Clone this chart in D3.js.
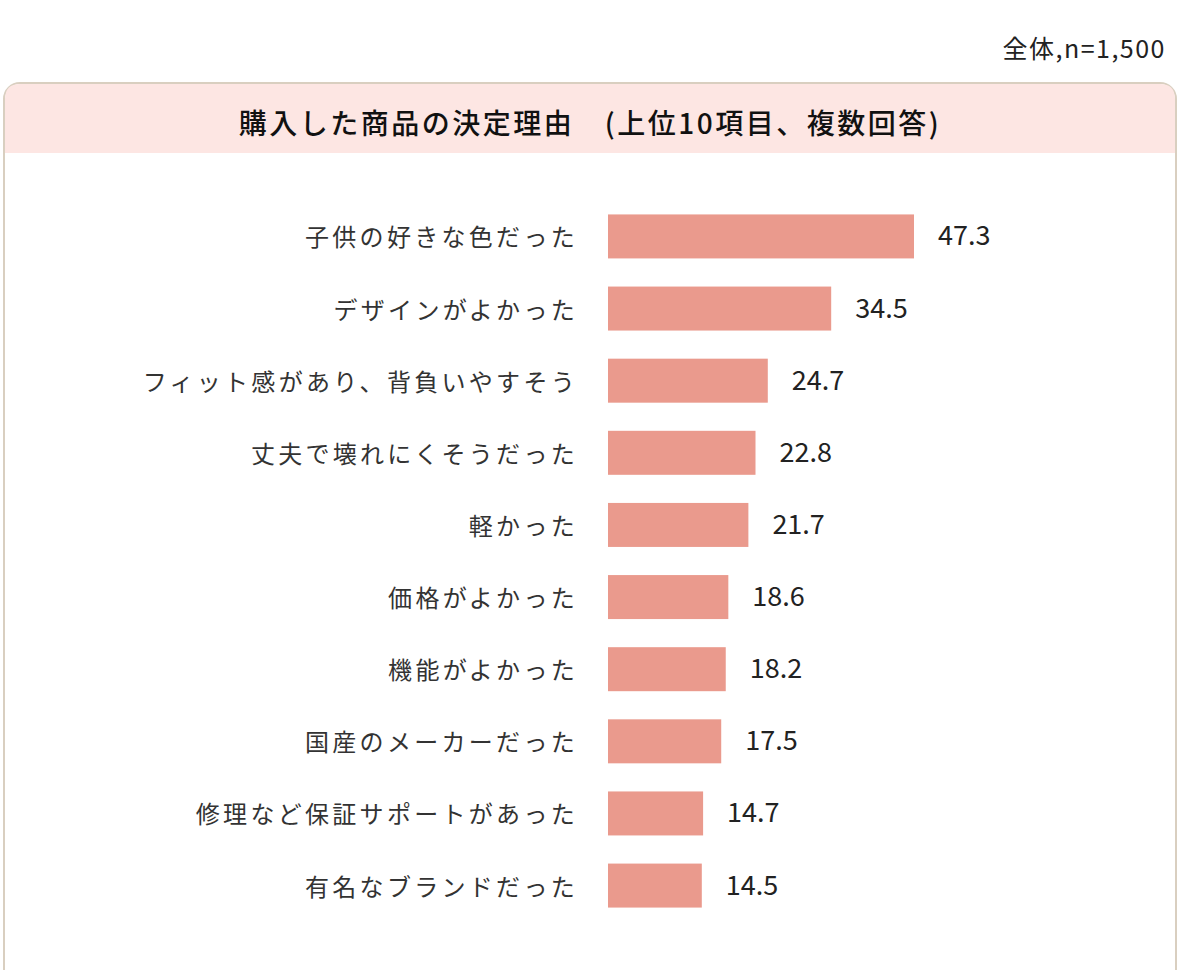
<!DOCTYPE html><html><head><meta charset="utf-8">
<script src="https://cdn.jsdelivr.net/npm/d3@7"></script>
<style>body{margin:0;background:#fff}</style></head><body><svg id="c" width="1180" height="970"></svg>
<script>
const categories=["子供の好きな色だった","デザインがよかった","フィット感があり、背負いやすそう","丈夫で壊れにくそうだった","軽かった","価格がよかった","機能がよかった","国産のメーカーだった","修理など保証サポートがあった","有名なブランドだった"];
const values=[47.3,34.5,24.7,22.8,21.7,18.6,18.2,17.5,14.7,14.5];
const svg=d3.select("#c");
const F="'Noto Sans CJK JP',sans-serif";
svg.append("text").attr("x",1166).attr("y",58).attr("text-anchor","end").attr("font-family",F).attr("font-size",25).attr("letter-spacing",1.5).attr("fill","#222").text("全体,n=1,500");
svg.append("rect").attr("x",4).attr("y",83).attr("width",1172).attr("height",910).attr("rx",16).attr("fill","#fff").attr("stroke","#d9cfc0").attr("stroke-width",2);
svg.append("path").attr("d","M5,153 V99 Q5,84 20,84 H1160 Q1175,84 1175,99 V153 Z").attr("fill","#fde6e3");
svg.append("text").attr("x",590).attr("y",134).attr("text-anchor","middle").attr("font-family",F).attr("font-weight",500).attr("font-size",28).attr("letter-spacing",2.5).attr("fill","#111").text("購入した商品の決定理由　(上位10項目、複数回答)");
const x=d3.scaleLinear().domain([0,47.3]).range([608,914]);
const y=d3.scaleBand().domain(categories).range([200,922]).paddingInner(0.39).paddingOuter(0.2);
const g=svg.append("g");
categories.forEach((c,i)=>{
 const yy=y(c),h=y.bandwidth();
 g.append("text").attr("x",578).attr("y",yy+h/2+10).attr("text-anchor","end").attr("font-family",F).attr("font-size",24).attr("letter-spacing",3.3).attr("fill","#333").text(c);
 g.append("rect").attr("x",x(0)).attr("y",yy).attr("width",x(values[i])-x(0)).attr("height",h).attr("fill","#ea9a8d");
 g.append("text").attr("x",x(values[i])+24).attr("y",yy+h/2+9).attr("font-family",F).attr("font-size",27).attr("fill","#222").text(values[i].toFixed(1));
});
</script></body></html>
